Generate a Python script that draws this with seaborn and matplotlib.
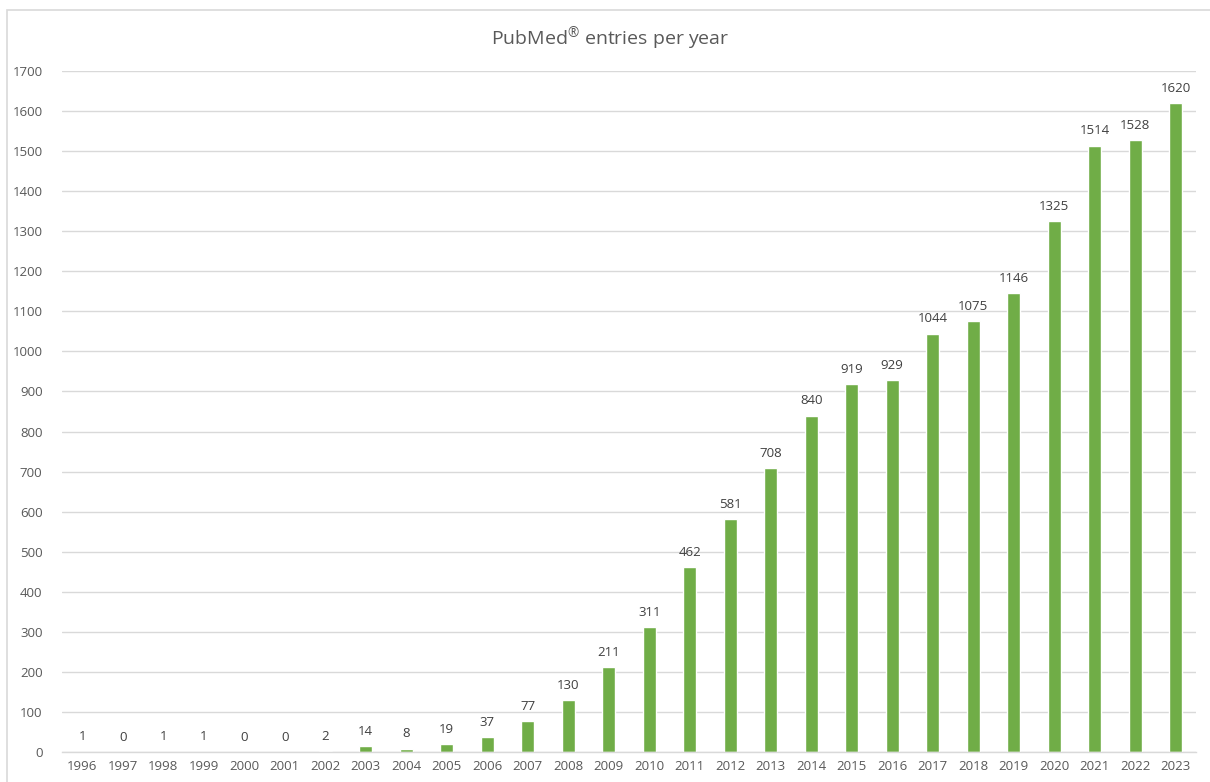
import matplotlib
matplotlib.use("Agg")
import matplotlib.pyplot as plt
import seaborn as sns
import pandas as pd
from matplotlib.patches import Rectangle

years = [str(y) for y in range(1996, 2024)]
entries = [1, 0, 1, 1, 0, 0, 2, 14, 8, 19, 37, 77, 130, 211, 311, 462, 581, 708,
           840, 919, 929, 1044, 1075, 1146, 1325, 1514, 1528, 1620]
yticks = list(range(0, 1701, 100))
title = r"PubMed$^{®}$ entries per year"

df = pd.DataFrame({"year": years, "entries": entries})

sns.set_theme(style="white")
plt.rcParams['font.family'] = ['Open Sans', 'DejaVu Sans']
plt.rcParams['mathtext.fontset'] = 'custom'
plt.rcParams['mathtext.rm'] = 'Open Sans'
plt.rcParams['mathtext.it'] = 'Open Sans'
plt.rcParams['mathtext.default'] = 'regular'

fig = plt.figure(figsize=(12.1, 7.82), dpi=100)
ax = fig.add_axes([62/1210, 1-752/782, (1196-62)/1210, (752-71)/782])

sns.barplot(data=df, x="year", y="entries", color="#70AD47", saturation=1,
            width=0.31, ax=ax)

txt = "#595959"
ax.set_ylim(0, 1700)
ax.set_xlim(-0.5, len(years) - 0.5)
ax.set_yticks(yticks)
ax.set_yticklabels([str(t) for t in yticks])
ax.grid(axis="y", color="#D9D9D9", linewidth=1)
ax.set_axisbelow(True)
for s in ["top", "right", "left"]:
    ax.spines[s].set_visible(False)
ax.spines["bottom"].set_color("#D9D9D9")
ax.spines["bottom"].set_linewidth(1)
ax.tick_params(axis="both", length=0, colors=txt, labelsize=9.5)
ax.tick_params(axis="y", pad=14)
ax.tick_params(axis="x", pad=6)
ax.set_xlabel("")
ax.set_ylabel("")

for i, v in enumerate(entries):
    ax.annotate(str(v), (i, v), xytext=(0, 6), textcoords="offset points",
                ha="center", va="bottom", fontsize=9.5, color="#404040")

fig.text(610/1210, 1-38/782, title, ha="center", va="center",
         fontsize=14, color=txt)

fig.patches.append(Rectangle((7/1210, -0.05), 1.1, 1-10/782 + 0.05,
                             transform=fig.transFigure, fill=False,
                             edgecolor="#D9D9D9", linewidth=1.2))

fig.savefig("out.png", dpi=100, facecolor="white")
